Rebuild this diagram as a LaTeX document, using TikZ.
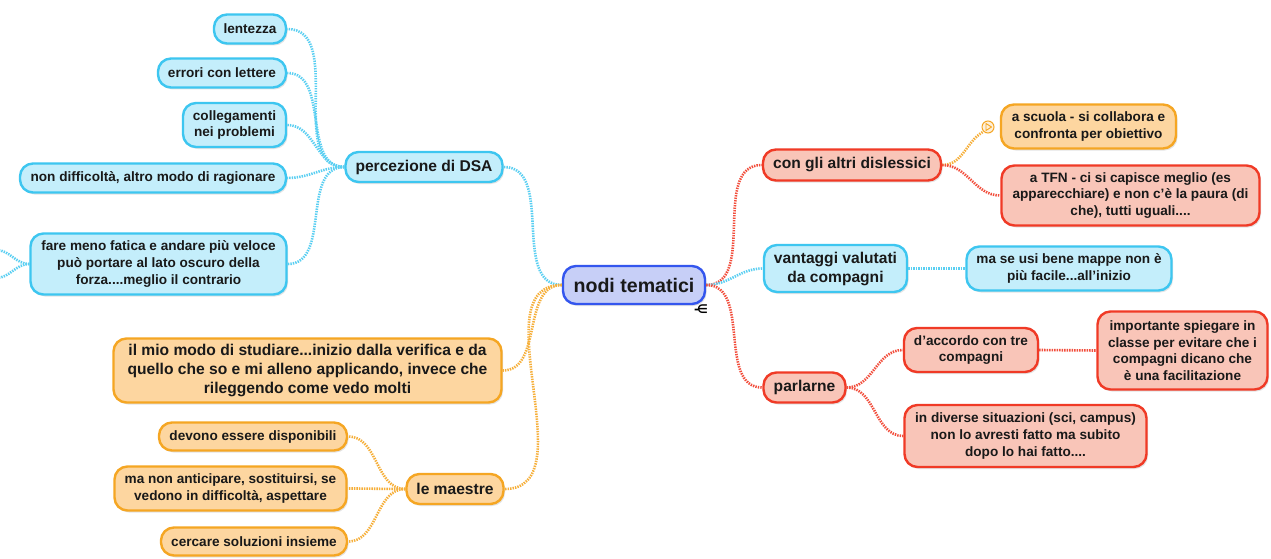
\documentclass[tikz,border=0pt]{standalone}
\usepackage{fontspec}
\setmainfont{Liberation Sans}
\newfontfamily\glyphfont{DejaVu Sans}
\usetikzlibrary{shadows}

\definecolor{bluefill}{HTML}{C4EEFB}
\definecolor{blueline}{HTML}{3DC6F0}
\definecolor{orfill}{HTML}{FDD6A0}
\definecolor{orline}{HTML}{F5A623}
\definecolor{redfill}{HTML}{F9C5B8}
\definecolor{redline}{HTML}{F03A26}
\definecolor{cfill}{HTML}{C7CFF7}
\definecolor{cline}{HTML}{3456EE}

\tikzset{
  mm/.style={rounded corners=13pt, line width=2.4pt, align=center, inner sep=0pt,
    text=black!90,
    drop shadow={shadow xshift=1.5pt, shadow yshift=-2pt, opacity=0.22}},
  leaf/.style={mm, font=\fontsize{13.6}{16.6}\selectfont\bfseries},
  branch/.style={mm, font=\fontsize{15.6}{19}\selectfont\bfseries},
  bluebox/.style={fill=bluefill, draw=blueline},
  orbox/.style={fill=orfill, draw=orline},
  redbox/.style={fill=redfill, draw=redline},
  link/.style={line width=2.6pt, dash pattern=on 1.4pt off 1.1pt},
  bluelink/.style={link, draw=blueline!85},
  orlink/.style={link, draw=orline!90},
  redlink/.style={link, draw=redline!90},
}

\begin{document}
\begin{tikzpicture}[x=1pt, y=-1pt]
\useasboundingbox (0,0) rectangle (1271,559);
\fill[white] (0,0) rectangle (1271,559);

% root
\node[mm, fill=cfill, draw=cline, font=\fontsize{19.6}{22}\selectfont\bfseries,
      minimum width=142pt, minimum height=38pt] (root) at (634,285) {nodi tematici};
\node[font=\glyphfont\fontsize{12}{12}\selectfont\bfseries, inner sep=0pt] (tog) at (701,309) {-\kern-2pt ∈};

% blue branch on the left
\node[branch, bluebox, minimum width=157pt, minimum height=30pt] (perc) at (424,167) {percezione di DSA};
\node[leaf, bluebox, minimum width=72pt, minimum height=29pt] (lent) at (250,29) {lentezza};
\node[leaf, bluebox, minimum width=128pt, minimum height=29pt] (err) at (222,73) {errori con lettere};
\node[leaf, bluebox, minimum width=103pt, minimum height=44pt] (coll) at (234.5,125) {collegamenti\\nei problemi};
\node[leaf, bluebox, minimum width=266pt, minimum height=29pt] (nond) at (153,178) {non difficoltà, altro modo di ragionare};
\node[leaf, bluebox, minimum width=256pt, minimum height=61pt] (fare) at (158.5,264) {fare meno fatica e andare più veloce\\può portare al lato oscuro della\\forza....meglio il contrario};
\coordinate (offup) at (-4,250);
\coordinate (offdown) at (-4,278);

% orange branch on the left
\node[branch, orbox, minimum width=388pt, minimum height=64pt] (mio) at (307.5,370.5) {il mio modo di studiare...inizio dalla verifica e da\\quello che so e mi alleno applicando, invece che\\rileggendo come vedo molti};
\node[branch, orbox, minimum width=97pt, minimum height=30pt] (maes) at (455,489) {le maestre};
\node[leaf, orbox, minimum width=188pt, minimum height=28pt] (dev) at (253,436.5) {devono essere disponibili};
\node[leaf, orbox, minimum width=232pt, minimum height=44pt] (anti) at (230.5,488.5) {ma non anticipare, sostituirsi, se\\vedono in difficoltà, aspettare};
\node[leaf, orbox, minimum width=186pt, minimum height=28pt] (cerc) at (254,541.5) {cercare soluzioni insieme};

% right side
\node[branch, redbox, minimum width=178pt, minimum height=31pt] (altri) at (852,165) {con gli altri dislessici};
\node[leaf, orbox, minimum width=175pt, minimum height=44pt] (scuo) at (1088.5,126.5) {a scuola - si collabora e\\confronta per obiettivo};
\node[leaf, redbox, minimum width=258pt, minimum height=60pt] (tfn) at (1130.5,195.5) {a TFN - ci si capisce meglio (es\\apparecchiare) e non c'è la paura (di\\che), tutti uguali....};
\node[circle, draw=orline, fill=orfill!40, line width=1pt, minimum size=12pt, inner sep=0pt] (att) at (988,127) {};
\draw[orline, line width=0.9pt, line join=round] (att.center) ++(-2,-3.5) -- ++(5.5,3.5) -- ++(-5.5,3.5) -- cycle;

\node[branch, bluebox, minimum width=143pt, minimum height=47pt] (vant) at (835.5,268.5) {vantaggi valutati\\da compagni};
\node[leaf, bluebox, minimum width=205pt, minimum height=44pt] (mapp) at (1069,268.5) {ma se usi bene mappe non è\\più facile...all'inizio};

\node[branch, redbox, minimum width=82pt, minimum height=30pt] (parl) at (804.5,387.5) {parlarne};
\node[leaf, redbox, minimum width=134pt, minimum height=44pt] (acc) at (971,350) {d'accordo con tre\\compagni};
\node[leaf, redbox, minimum width=170pt, minimum height=78pt] (imp) at (1182.5,350.5) {importante spiegare in\\classe per evitare che i\\compagni dicano che\\è una facilitazione};
\node[leaf, redbox, minimum width=242pt, minimum height=62pt] (div) at (1025.5,436) {in diverse situazioni (sci, campus)\\non lo avresti fatto ma subito\\dopo lo hai fatto....};

% connectors
\draw[bluelink] (root.west) to[out=180,in=0] (perc.east);
\draw[orlink] (root.west) to[out=180,in=0] (mio.east);
\draw[orlink] (root.west) to[out=180,in=0] (maes.east);
\draw[bluelink] (perc.west) to[out=180,in=0] (lent.east);
\draw[bluelink] (perc.west) to[out=180,in=0] (err.east);
\draw[bluelink] (perc.west) to[out=180,in=0] (coll.east);
\draw[bluelink] (perc.west) to[out=180,in=0] (nond.east);
\draw[bluelink] (perc.west) to[out=180,in=0] (fare.east);
\draw[bluelink] (fare.west) to[out=180,in=0] (offup);
\draw[bluelink] (fare.west) to[out=180,in=0] (offdown);
\draw[orlink] (maes.west) to[out=180,in=0] (dev.east);
\draw[orlink] (maes.west) to[out=180,in=0] (anti.east);
\draw[orlink] (maes.west) to[out=180,in=0] (cerc.east);

\draw[redlink] (root.east) to[out=0,in=180] (altri.west);
\draw[bluelink] (root.east) to[out=0,in=180] (vant.west);
\draw[redlink] (root.east) to[out=0,in=180] (parl.west);
\draw[orlink] (altri.east) to[out=0,in=210] (att.south west);
\draw[redlink] (altri.east) to[out=0,in=180] (tfn.west);
\draw[bluelink] (vant.east) -- (mapp.west);
\draw[redlink] (parl.east) to[out=0,in=180] (acc.west);
\draw[redlink] (parl.east) to[out=0,in=180] (div.west);
\draw[redlink] (acc.east) -- (imp.west);
\end{tikzpicture}
\end{document}
